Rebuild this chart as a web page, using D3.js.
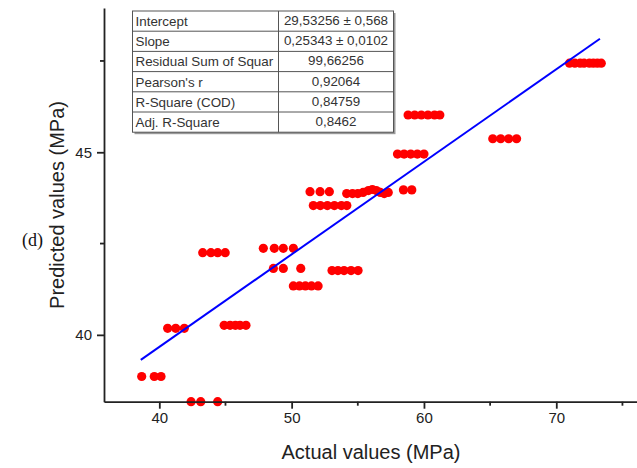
<!DOCTYPE html>
<html>
<head>
  <meta charset="utf-8">
  <script src="https://d3js.org/d3.v7.min.js"></script>
  <style type="text/css">
    body { margin: 0; background: #fff; }
    svg { font-family: Arial, "Liberation Sans", sans-serif; }
  </style>
</head>
<body>
<script type="text/javascript">
  "use strict";

  var actualVals = [
    38.67, 39.62, 40.13,
    42.40, 43.13, 44.41,
    40.63, 41.24, 41.89,
    44.9, 45.35, 45.75, 46.1, 46.55,
    43.28, 43.9, 44.41, 44.98,
    47.86, 48.69, 49.37, 50.13,
    48.62, 49.37, 50.69,
    53.05, 53.5, 53.96, 54.49, 55.02,
    50.13, 50.59, 51.04, 51.5, 52.0,
    51.39, 52.15, 52.85,
    51.64, 52.17, 52.7, 53.23, 53.76, 54.17,
    54.16, 54.6, 55.0, 55.4, 55.8, 56.1, 56.4, 56.7, 57.0, 57.3,
    58.45, 59.08,
    58.0, 58.5, 59.0, 59.5, 60.0,
    58.8, 59.3, 59.8, 60.3, 60.8, 61.2,
    65.2, 65.8, 66.4, 67.0,
    71.0, 71.4, 71.8, 72.1, 72.5, 72.8, 73.1, 73.4
  ];
  var predictedVals = [
    38.86, 38.86, 38.86,
    38.17, 38.17, 38.17,
    40.18, 40.18, 40.18,
    40.26, 40.26, 40.26, 40.26, 40.26,
    42.25, 42.25, 42.25, 42.25,
    42.37, 42.37, 42.37, 42.37,
    41.82, 41.82, 41.82,
    41.76, 41.76, 41.76, 41.76, 41.76,
    41.34, 41.34, 41.34, 41.34, 41.34,
    43.92, 43.92, 43.92,
    43.54, 43.54, 43.54, 43.54, 43.54, 43.54,
    43.87, 43.87, 43.87, 43.9, 43.95, 43.98, 43.95, 43.9, 43.87, 43.9,
    43.97, 43.97,
    44.95, 44.95, 44.95, 44.95, 44.95,
    46.02, 46.02, 46.02, 46.02, 46.02, 46.02,
    45.37, 45.37, 45.37, 45.37,
    47.44, 47.44, 47.44, 47.44, 47.44, 47.44, 47.44, 47.44
  ];

  var fitIntercept = 29.53256,
      fitSlope = 0.25343,
      fitRange = [38.6, 73.3];

  var xTicks = [40, 50, 60, 70],
      xMinorTicks = [45, 55, 65, 75],
      yTicks = [40, 45],
      yMinorTicks = [42.5, 47.5];

  var statLabels = ["Intercept", "Slope", "Residual Sum of Squar", "Pearson's r",
                    "R-Square (COD)", "Adj. R-Square"];
  var statValues = ["29,53256 \u00b1 0,568", "0,25343 \u00b1 0,0102", "99,66256",
                    "0,92064", "0,84759", "0,8462"];

  function draw() {
    var width = 637, height = 468;
    var plotLeft = 104, plotRight = 637, plotTop = 8, plotBottom = 401.7;

    var svg = d3.select("body").append("svg")
        .attr("width", width)
        .attr("height", height);

    var x = d3.scaleLinear().domain([35.82, 76.1]).range([plotLeft, plotRight]);
    var y = d3.scaleLinear().domain([38.17, 48.95]).range([plotBottom, plotTop]);

    // points
    var pts = d3.zip(actualVals, predictedVals);
    svg.append("g").selectAll("circle")
      .data(pts)
      .enter().append("circle")
        .attr("cx", function(d) { return x(d[0]); })
        .attr("cy", function(d) { return y(d[1]); })
        .attr("r", 4.6)
        .attr("fill", "#ff0000");

    // fitted line
    svg.append("line")
        .attr("x1", x(fitRange[0]))
        .attr("y1", y(fitIntercept + fitSlope * fitRange[0]))
        .attr("x2", x(fitRange[1]))
        .attr("y2", y(fitIntercept + fitSlope * fitRange[1]))
        .attr("stroke", "#0000ff")
        .attr("stroke-width", 2);

    // axes
    var xAxis = svg.append("g")
        .attr("transform", "translate(0," + plotBottom + ")")
        .call(d3.axisBottom(x).tickValues(xTicks).tickSize(7).tickPadding(4).tickSizeOuter(0));
    xAxis.append("g").selectAll("line")
      .data(xMinorTicks)
      .enter().append("line")
        .attr("x1", function(d) { return x(d); })
        .attr("x2", function(d) { return x(d); })
        .attr("y1", 0).attr("y2", 4)
        .attr("stroke", "#222").attr("stroke-width", 1.8);

    var yAxis = svg.append("g")
        .attr("transform", "translate(" + plotLeft + ",0)")
        .call(d3.axisLeft(y).tickValues(yTicks).tickSize(7).tickPadding(5).tickSizeOuter(0));
    yAxis.append("g").selectAll("line")
      .data(yMinorTicks)
      .enter().append("line")
        .attr("y1", function(d) { return y(d); })
        .attr("y2", function(d) { return y(d); })
        .attr("x1", 0).attr("x2", -4)
        .attr("stroke", "#222").attr("stroke-width", 1.8);

    svg.selectAll(".domain").attr("stroke", "#222").attr("stroke-width", 1.8);
    svg.selectAll(".tick line").attr("stroke", "#222").attr("stroke-width", 1.8);
    svg.selectAll(".tick text")
        .attr("font-size", 15)
        .attr("font-family", "Arial, 'Liberation Sans', sans-serif")
        .attr("fill", "#222");

    // axis titles
    svg.append("text")
        .attr("x", 371).attr("y", 459)
        .attr("text-anchor", "middle")
        .attr("font-size", 20)
        .attr("fill", "#222")
        .text("Actual values (MPa)");

    svg.append("text")
        .attr("transform", "translate(64,205) rotate(-90)")
        .attr("text-anchor", "middle")
        .attr("font-size", 20)
        .attr("fill", "#222")
        .text("Predicted values (MPa)");

    svg.append("text")
        .attr("x", 22).attr("y", 246)
        .attr("font-family", "'Liberation Serif', 'Times New Roman', serif")
        .attr("font-size", 18)
        .attr("fill", "#111")
        .text("(d)");

    // stats table
    var tx = 132.5, ty = 11, colW = [146, 115], rowH = 20.2;
    var tbl = svg.append("g");
    tbl.append("rect")
        .attr("x", tx + 2).attr("y", ty + 2)
        .attr("width", colW[0] + colW[1]).attr("height", rowH * statLabels.length)
        .attr("fill", "#999");
    tbl.append("rect")
        .attr("x", tx).attr("y", ty)
        .attr("width", colW[0] + colW[1]).attr("height", rowH * statLabels.length)
        .attr("fill", "#fff").attr("stroke", "#555").attr("stroke-width", 1);
    tbl.selectAll("line.row")
      .data(d3.range(1, statLabels.length))
      .enter().append("line")
        .attr("class", "row")
        .attr("x1", tx).attr("x2", tx + colW[0] + colW[1])
        .attr("y1", function(d) { return ty + d * rowH; })
        .attr("y2", function(d) { return ty + d * rowH; })
        .attr("stroke", "#555");
    tbl.append("line")
        .attr("x1", tx + colW[0]).attr("x2", tx + colW[0])
        .attr("y1", ty).attr("y2", ty + rowH * statLabels.length)
        .attr("stroke", "#555");
    tbl.selectAll("text.lab")
      .data(statLabels)
      .enter().append("text")
        .attr("class", "lab")
        .attr("x", tx + 3)
        .attr("y", function(d, i) { return ty + i * rowH + 15; })
        .attr("font-size", 13.4)
        .attr("fill", "#333")
        .text(function(d) { return d; });
    tbl.selectAll("text.val")
      .data(statValues)
      .enter().append("text")
        .attr("class", "val")
        .attr("x", tx + colW[0] + colW[1] / 2)
        .attr("y", function(d, i) { return ty + i * rowH + 14; })
        .attr("text-anchor", "middle")
        .attr("font-size", 13.4)
        .attr("fill", "#333")
        .text(function(d) { return d; });
  }

  draw();
</script>
</body>
</html>
